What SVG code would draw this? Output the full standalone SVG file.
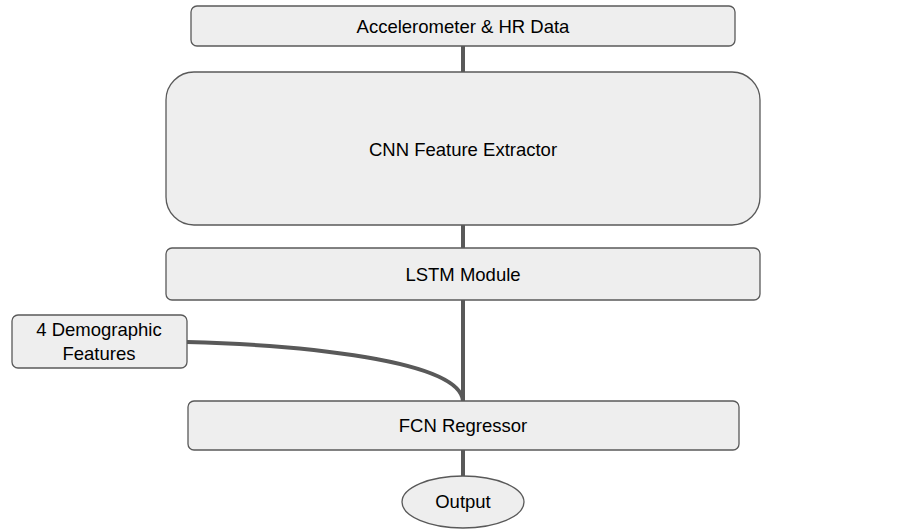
<svg xmlns="http://www.w3.org/2000/svg" width="901" height="532" viewBox="0 0 901 532">
<style>
.n{fill:#eeeeee;stroke:#595959;stroke-width:1.3}
.t{font-family:"Liberation Sans",Arial,sans-serif;font-size:18.5px;fill:#000;text-anchor:middle}
.c{fill:none;stroke:#595959;stroke-width:4}
</style>
<rect width="901" height="532" fill="#fff"/>
<g id="connectors">
<path class="c" d="M463,46V72"/>
<path class="c" d="M463,225V248"/>
<path class="c" d="M463,300V401"/>
<path class="c" d="M187,342C300,345 460,360 463,401"/>
<path class="c" d="M463,450V476"/>
</g>
<g id="input"><rect class="n" x="191" y="6" width="544" height="40" rx="6"/><text class="t" x="463" y="33">Accelerometer &amp; HR Data</text></g>
<g id="cnn"><rect class="n" x="166" y="72" width="594" height="153" rx="28"/><text class="t" x="463" y="156">CNN Feature Extractor</text></g>
<g id="lstm"><rect class="n" x="166" y="248" width="594" height="52" rx="6"/><text class="t" x="463" y="281">LSTM Module</text></g>
<g id="demo"><rect class="n" x="12" y="315" width="175" height="53" rx="6"/><text class="t" x="99" y="336">4 Demographic</text><text class="t" x="99" y="360">Features</text></g>
<g id="fcn"><rect class="n" x="188" y="401" width="551" height="49" rx="6"/><text class="t" x="463" y="432">FCN Regressor</text></g>
<g id="output"><ellipse class="n" cx="463" cy="502" rx="61" ry="26"/><text class="t" x="463" y="508">Output</text></g>
</svg>
